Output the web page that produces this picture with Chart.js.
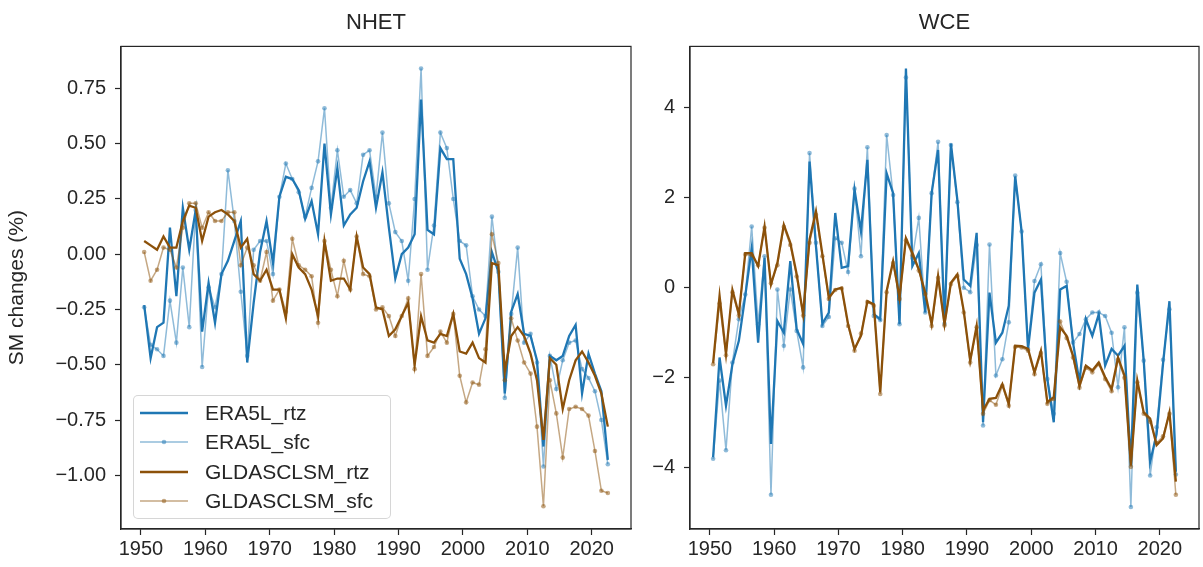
<!DOCTYPE html>
<html>
<head>
<meta charset="utf-8">
<script src="https://cdn.jsdelivr.net/npm/chart.js@4.4.1/dist/chart.umd.min.js"></script>
<style>
body { margin: 0; background: #fff; width: 1203px; height: 567px; position: relative; overflow: hidden;
       font-family: "Liberation Sans", Arial, sans-serif; color: #262626; }
canvas { position: absolute; top: 0; }
#left { left: 0; }
#right { left: 640px; }
.legend { position: absolute; left: 133px; top: 395px; width: 256px; height: 122px;
          border: 1px solid rgba(204,204,204,0.8); border-radius: 5px; background: rgba(255,255,255,0.8); }
.row { position: absolute; left: 0; height: 22px; font-size: 21px; line-height: 22px; }
.row svg { position: absolute; left: 6px; top: 5px; }
.row span { position: absolute; left: 71px; top: 0; white-space: nowrap; }
</style>
</head>
<body>
<canvas id="left" width="640" height="567" style="width:640px;height:567px"></canvas>
<canvas id="right" width="563" height="567" style="width:563px;height:567px"></canvas>
<div class="legend" id="legend"></div>
<script>
const FONT = '"Liberation Sans", Arial, sans-serif';

// years of the annual series (plotted at mid-year)
const years = [1950,1951,1952,1953,1954,1955,1956,1957,1958,1959,
    1960,1961,1962,1963,1964,1965,1966,1967,1968,1969,
    1970,1971,1972,1973,1974,1975,1976,1977,1978,1979,
    1980,1981,1982,1983,1984,1985,1986,1987,1988,1989,
    1990,1991,1992,1993,1994,1995,1996,1997,1998,1999,
    2000,2001,2002,2003,2004,2005,2006,2007,2008,2009,
    2010,2011,2012,2013,2014,2015,2016,2017,2018,2019,
    2020,2021,2022];
const midYear = 0.5;

const seriesNames = ['ERA5L_rtz', 'ERA5L_sfc', 'GLDASCLSM_rtz', 'GLDASCLSM_sfc'];

// NHET
const nhetEraRtz = [-0.23,-0.47,-0.33,-0.31,0.12,-0.19,0.21,0.02,0.20,-0.35,
    -0.13,-0.31,-0.09,-0.03,0.06,0.15,-0.49,-0.22,0.01,0.15,
    -0.04,0.26,0.35,0.34,0.29,0.16,0.24,0.09,0.50,0.18,
    0.39,0.13,0.18,0.21,0.33,0.42,0.21,0.37,0.12,-0.11,
    0.00,0.03,0.09,0.70,0.11,0.09,0.48,0.43,0.43,-0.02,
    -0.09,-0.20,-0.36,-0.29,0.01,-0.08,-0.63,-0.26,-0.18,-0.36,
    -0.37,-0.48,-0.87,-0.46,-0.48,-0.46,-0.37,-0.32,-0.63,-0.45,
    -0.54,-0.62,-0.93];
const nhetEraSfc = [-0.24,-0.41,-0.43,-0.46,-0.21,-0.40,-0.06,-0.33,0.20,-0.51,
    -0.15,-0.24,-0.09,0.38,0.15,-0.17,-0.46,0.02,0.06,0.06,
    -0.09,0.26,0.41,0.34,0.28,0.17,0.30,0.42,0.66,0.21,
    0.47,0.26,0.29,0.23,0.45,0.47,0.26,0.55,0.23,0.10,
    0.06,-0.12,0.25,0.84,-0.07,0.13,0.55,0.48,0.25,0.06,
    0.04,-0.19,-0.25,-0.28,0.17,-0.08,-0.65,-0.27,0.03,-0.40,
    -0.36,-0.49,-0.96,-0.46,-0.61,-0.48,-0.40,-0.39,-0.52,-0.56,
    -0.62,-0.75,-0.95];
const nhetGlRtz = [0.06,0.04,0.02,0.08,0.03,0.03,0.15,0.22,0.21,0.06,
    0.17,0.19,0.20,0.18,0.15,0.03,0.07,-0.09,-0.12,-0.07,
    -0.16,-0.16,-0.29,0.00,-0.06,-0.09,-0.16,-0.28,0.06,-0.12,
    -0.11,-0.11,-0.16,0.08,-0.06,-0.09,-0.24,-0.25,-0.37,-0.34,
    -0.28,-0.22,-0.50,-0.28,-0.39,-0.40,-0.36,-0.37,-0.27,-0.44,
    -0.45,-0.40,-0.47,-0.49,-0.04,-0.05,-0.53,-0.37,-0.33,-0.37,
    -0.45,-0.57,-0.84,-0.47,-0.50,-0.70,-0.57,-0.48,-0.44,-0.49,
    -0.55,-0.63,-0.78];
const nhetGlSfc = [0.01,-0.12,-0.07,0.03,0.02,-0.06,0.12,0.23,0.23,0.12,
    0.19,0.15,0.15,0.19,0.19,-0.05,0.03,-0.05,-0.12,0.01,
    -0.21,-0.16,-0.26,0.07,-0.05,-0.07,-0.10,-0.31,0.06,-0.07,
    -0.19,-0.03,-0.16,0.08,-0.09,-0.10,-0.25,-0.24,-0.28,-0.37,
    -0.28,-0.20,-0.52,-0.09,-0.46,-0.42,-0.35,-0.40,-0.27,-0.55,
    -0.67,-0.58,-0.59,-0.43,0.09,-0.04,-0.57,-0.29,-0.39,-0.49,
    -0.54,-0.78,-1.14,-0.57,-0.72,-0.92,-0.70,-0.69,-0.70,-0.73,
    -0.89,-1.07,-1.08];

// WCE
const wceEraRtz = [-3.76,-1.55,-2.62,-1.70,-1.18,-0.18,0.88,-1.22,0.66,-3.47,
    -0.74,-1.00,0.59,-0.92,-1.25,2.80,0.92,-0.80,-0.55,1.66,
    0.44,0.48,2.18,1.25,2.84,-0.59,-0.70,2.54,2.10,-0.81,
    4.87,0.48,0.77,-0.55,2.10,3.06,-0.77,3.20,1.95,0.18,
    0.04,1.22,-2.99,-0.11,-1.22,-1.00,-0.40,2.47,1.25,-1.36,
    -0.11,0.18,-2.03,-2.99,-0.04,0.04,-1.22,-2.10,-0.70,-1.07,
    -0.59,-1.73,-1.36,-1.51,-1.29,-3.95,0.07,-1.62,-3.87,-3.25,
    -1.70,-0.30,-4.09];
const wceEraSfc = [-3.80,-2.06,-3.61,-1.66,-0.70,-0.15,1.36,-0.81,0.70,-4.60,
    -0.04,-1.29,-0.04,-0.96,-1.77,2.99,1.00,-0.85,-0.65,1.10,
    1.00,0.35,2.20,0.70,3.12,-0.63,-0.72,3.39,2.06,-0.81,
    4.67,0.66,1.55,-0.55,2.10,3.24,-0.80,3.17,1.90,0.00,
    -0.10,0.95,-3.06,0.96,-1.95,-1.59,-0.77,2.49,1.25,-1.36,
    0.15,0.52,-2.03,-2.80,0.77,0.13,-1.22,-1.03,-0.70,-0.55,
    -0.55,-0.63,-1.00,-2.21,-0.88,-4.87,-0.11,-1.62,-4.17,-3.10,
    -1.60,-0.48,-4.15];
const wceGlRtz = [-1.67,-0.18,-1.47,-0.05,-0.59,0.77,0.77,0.48,1.36,0.07,
    0.55,1.40,1.00,0.30,-0.59,1.07,1.70,0.74,-0.22,-0.04,
    0.00,-0.81,-1.36,-1.07,-0.30,-0.37,-2.32,-0.07,0.59,-0.22,
    1.10,0.77,0.41,-0.11,-0.81,0.26,-0.81,0.11,0.30,-0.52,
    -1.62,-0.85,-2.73,-2.47,-2.45,-2.14,-2.58,-1.29,-1.30,-1.36,
    -1.88,-1.40,-2.54,-2.43,-0.88,-1.07,-1.51,-2.18,-1.73,-1.84,
    -1.66,-1.99,-2.25,-1.55,-1.95,-3.95,-2.06,-2.77,-2.91,-3.50,
    -3.35,-2.77,-4.31];
const wceGlSfc = [-1.70,-0.35,-1.50,-0.10,-0.62,0.74,0.72,0.50,1.33,0.10,
    0.50,1.35,0.95,0.25,-0.62,1.00,1.62,0.70,-0.25,-0.05,
    -0.02,-0.85,-1.40,-1.02,-0.32,-0.40,-2.36,-0.10,0.55,-0.25,
    1.05,0.72,0.38,-0.14,-0.85,0.22,-0.84,0.08,0.26,-0.55,
    -1.66,-0.88,-2.80,-2.50,-2.60,-2.18,-2.62,-1.32,-1.33,-1.40,
    -1.92,-1.45,-2.58,-2.47,-0.75,-1.12,-1.55,-2.22,-1.78,-1.88,
    -1.70,-2.03,-2.30,-1.60,-2.00,-3.98,-2.10,-2.80,-2.98,-3.45,
    -3.30,-2.80,-4.60];

const xTicks = [1950, 1960, 1970, 1980, 1990, 2000, 2010, 2020];
const nhetTicks = [-1.00, -0.75, -0.50, -0.25, 0.00, 0.25, 0.50, 0.75];
const wceTicks = [-4, -2, 0, 2, 4];

const BLUE = 'rgb(31,119,180)';
const BLUE_A = 'rgba(31,119,180,0.5)';
const BROWN = 'rgb(140,81,10)';
const BROWN_A = 'rgba(140,81,10,0.5)';
const INK = '#262626';

function pts(vals) {
    return vals.map((v, i) => ({x: years[i] + midYear, y: v}));
}

function thick(label, vals, color, order) {
    return {label: label, data: pts(vals), borderColor: color, borderWidth: 2.3,
        pointRadius: 0, tension: 0, order: order};
}
function thin(label, vals, color, order) {
    return {label: label, data: pts(vals), borderColor: color, borderWidth: 1.5,
        pointRadius: 2.3, pointBorderWidth: 0, pointBackgroundColor: color, tension: 0, order: order};
}

const frame = {
    id: 'frame',
    afterDraw(chart) {
        const a = chart.chartArea, c = chart.ctx;
        c.save();
        c.strokeStyle = INK;
        c.lineWidth = 1.2;
        c.strokeRect(a.left, a.top, a.right - a.left, a.bottom - a.top);
        c.restore();
    }
};

function minus(s) { return s.replace('-', '\u2212'); }

function panel(id, title, sets, yMin, yMax, yTicks, fmt, yWidth, yTitle, padRight) {
    new Chart(document.getElementById(id), {
        type: 'line',
        data: {datasets: sets},
        options: {
            responsive: false,
            animation: false,
            layout: {padding: {left: 0, right: padRight, top: 0, bottom: 0}},
            plugins: {
                legend: {display: false},
                tooltip: {enabled: false},
                title: {display: true, text: title, color: INK, fullSize: false,
                    font: {family: FONT, size: 22, weight: 'normal'},
                    padding: {top: 10, bottom: 10}}
            },
            scales: {
                x: {
                    type: 'linear', min: 1946.9, max: 2026.1,
                    afterBuildTicks: s => { s.ticks = xTicks.map(v => ({value: v})); },
                    afterFit: s => { s.height = 38; },
                    ticks: {callback: v => String(v), color: INK, font: {family: FONT, size: 20},
                        maxRotation: 0, autoSkip: false, padding: 2},
                    grid: {drawOnChartArea: false, drawTicks: true, tickLength: 6, tickWidth: 1.2, color: INK},
                    border: {display: true, color: INK, width: 1.2}
                },
                y: {
                    type: 'linear', min: yMin, max: yMax,
                    afterBuildTicks: s => { s.ticks = yTicks.map(v => ({value: v})); },
                    afterFit: s => { s.width = yWidth; },
                    ticks: {callback: fmt, color: INK, font: {family: FONT, size: 20}, padding: 9},
                    grid: {drawOnChartArea: false, drawTicks: true, tickLength: 6, tickWidth: 1.2, color: INK},
                    border: {display: true, color: INK, width: 1.2},
                    title: {display: !!yTitle, text: yTitle, color: INK,
                        font: {family: FONT, size: 21}, padding: {top: 5, bottom: 0}}
                }
            }
        },
        plugins: [frame]
    });
}

panel('left', 'NHET', [
    thick(seriesNames[0], nhetEraRtz, BLUE, 4),
    thin(seriesNames[1], nhetEraSfc, BLUE_A, 3),
    thick(seriesNames[2], nhetGlRtz, BROWN, 2),
    thin(seriesNames[3], nhetGlSfc, BROWN_A, 1)
], -1.243, 0.94, nhetTicks, v => minus(v.toFixed(2)), 121, 'SM changes (%)', 9);

panel('right', 'WCE', [
    thick(seriesNames[0], wceEraRtz, BLUE, 4),
    thin(seriesNames[1], wceEraSfc, BLUE_A, 3),
    thick(seriesNames[2], wceGlRtz, BROWN, 2),
    thin(seriesNames[3], wceGlSfc, BROWN_A, 1)
], -5.36, 5.36, wceTicks, v => minus(String(v)), 50, '', 4);

// legend box (left panel only)
const legendColors = [BLUE, BLUE_A, BROWN, BROWN_A];
const legendMarker = [false, true, false, true];
const lg = document.getElementById('legend');
seriesNames.forEach((name, i) => {
    const row = document.createElement('div');
    row.className = 'row';
    row.style.top = (6 + i * 29.3) + 'px';
    const w = legendMarker[i] ? 1.5 : 2.3;
    let svg = '<svg width="48" height="12"><line x1="0" y1="6" x2="48" y2="6" stroke="' + legendColors[i] +
        '" stroke-width="' + w + '"/>';
    if (legendMarker[i]) svg += '<circle cx="24" cy="6" r="2.3" fill="' + legendColors[i] + '"/>';
    svg += '</svg>';
    row.innerHTML = svg + '<span>' + name + '</span>';
    lg.appendChild(row);
});
</script>
</body>
</html>
